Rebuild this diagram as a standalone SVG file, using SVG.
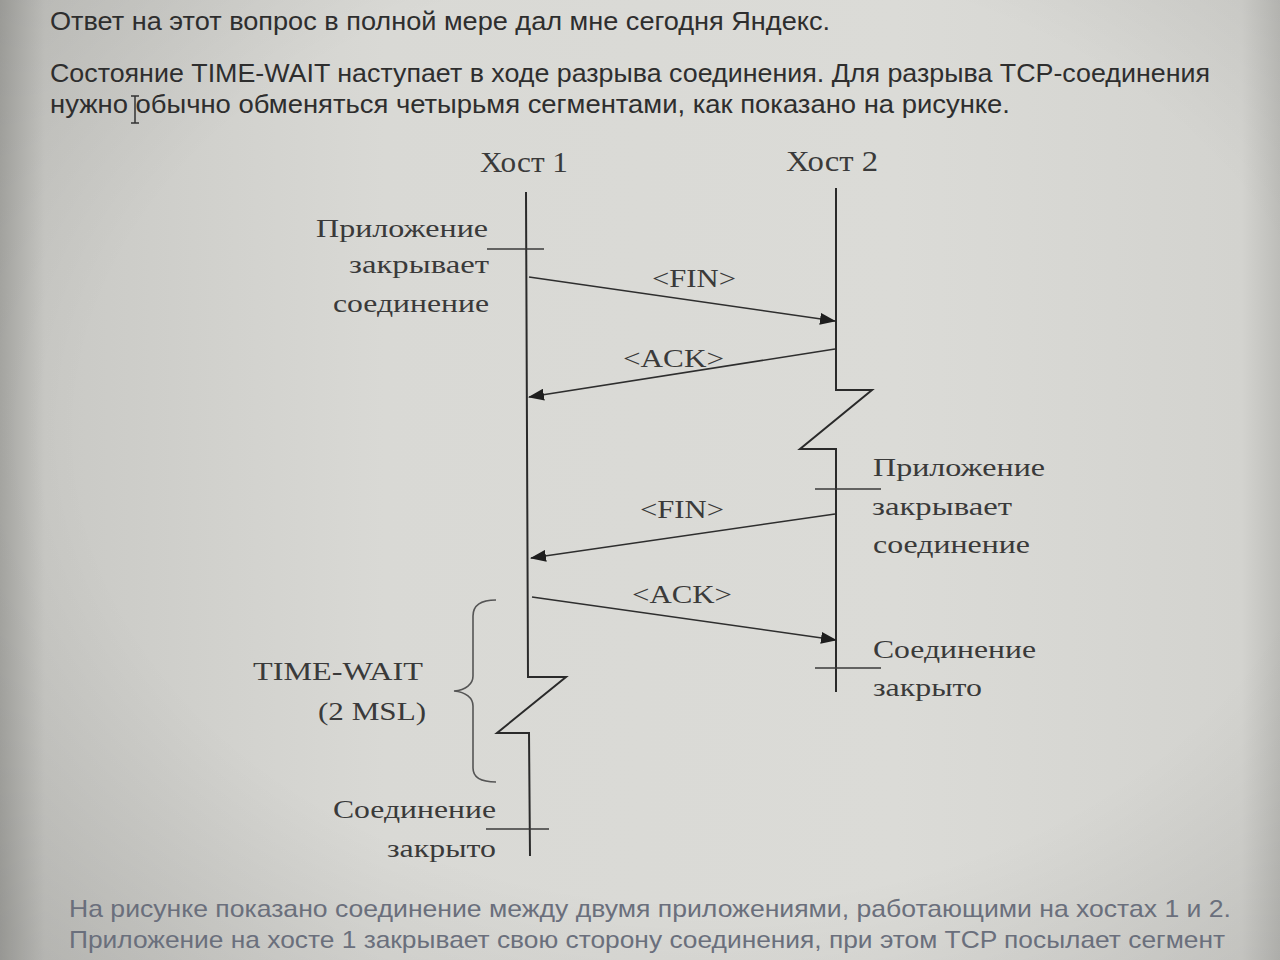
<svg xmlns="http://www.w3.org/2000/svg" width="1280" height="960" viewBox="0 0 1280 960">
<defs>
<linearGradient id="bgx" x1="0" y1="0" x2="1" y2="0">
<stop offset="0" stop-color="#a8a8a4"/>
<stop offset="0.035" stop-color="#c9c9c5"/>
<stop offset="0.3" stop-color="#d9d9d5"/>
<stop offset="0.7" stop-color="#dbdbd7"/>
<stop offset="0.97" stop-color="#d3d3cf"/>
<stop offset="1" stop-color="#bdbdb9"/>
</linearGradient>
<radialGradient id="vig" cx="0.55" cy="0.45" r="0.75">
<stop offset="0.65" stop-color="#000" stop-opacity="0"/>
<stop offset="1" stop-color="#000" stop-opacity="0.1"/>
</radialGradient>
<marker id="ah" viewBox="0 0 16 12" refX="15" refY="6" markerWidth="16" markerHeight="12" markerUnits="userSpaceOnUse" orient="auto">
<path d="M0,0 L16,6 L0,12 z" fill="#1e1e1e"/>
</marker>
<style>
.para{font-family:"Liberation Sans","DejaVu Sans",sans-serif;font-size:26px;fill:#2e2e2e}
.foot{font-family:"Liberation Sans","DejaVu Sans",sans-serif;font-size:24px;fill:#6a6f7c}
.lbl{font-family:"Liberation Serif","DejaVu Serif",serif;font-size:26px;fill:#3a3a3a}
.host{font-family:"Liberation Serif","DejaVu Serif",serif;font-size:29px;fill:#3a3a3a}
.life{fill:none;stroke:#2a2a2a;stroke-width:2}
.tick{fill:none;stroke:#3a3a3a;stroke-width:1.5}
.msg{fill:none;stroke:#2e2e2e;stroke-width:1.6;marker-end:url(#ah)}
.brace{fill:none;stroke:#555;stroke-width:1.6}
</style>
</defs>
<rect width="1280" height="960" fill="url(#bgx)"/>
<rect width="1280" height="960" fill="url(#vig)"/>

<g id="intro">
<text class="para" x="50" y="30" textLength="780" lengthAdjust="spacingAndGlyphs">Ответ на этот вопрос в полной мере дал мне сегодня Яндекс.</text>
<text class="para" x="50" y="82" textLength="1160" lengthAdjust="spacingAndGlyphs">Состояние TIME-WAIT наступает в ходе разрыва соединения. Для разрыва TCP-соединения</text>
<text class="para" x="50" y="113" textLength="960" lengthAdjust="spacingAndGlyphs">нужно обычно обменяться четырьмя сегментами, как показано на рисунке.</text>
<path d="M131,96 h8 M135,96 V123 M131,123 h8" fill="none" stroke="#333" stroke-width="1.5"/>
</g>

<g id="host1">
<text class="host" x="480" y="172" textLength="88" lengthAdjust="spacingAndGlyphs">Хост 1</text>
<polyline class="life" points="526,192 528,677 566,677 497,733 529,733 530,856"/>
<line class="tick" x1="487" y1="249" x2="544" y2="249"/>
<line class="tick" x1="486" y1="829" x2="549" y2="829"/>
</g>

<g id="host2">
<text class="host" x="786" y="171" textLength="92" lengthAdjust="spacingAndGlyphs">Хост 2</text>
<polyline class="life" points="836,188 836,390 872,390 800,449 836,449 836,692"/>
<line class="tick" x1="815" y1="489" x2="881" y2="489"/>
<line class="tick" x1="815" y1="668" x2="881" y2="668"/>
</g>

<g id="h1-close-app">
<text class="lbl" x="488" y="237" text-anchor="end" textLength="172" lengthAdjust="spacingAndGlyphs">Приложение</text>
<text class="lbl" x="489" y="273" text-anchor="end" textLength="140" lengthAdjust="spacingAndGlyphs">закрывает</text>
<text class="lbl" x="489" y="312" text-anchor="end" textLength="156" lengthAdjust="spacingAndGlyphs">соединение</text>
</g>

<g id="h2-close-app">
<text class="lbl" x="873" y="476" textLength="172" lengthAdjust="spacingAndGlyphs">Приложение</text>
<text class="lbl" x="872" y="515" textLength="140" lengthAdjust="spacingAndGlyphs">закрывает</text>
<text class="lbl" x="873" y="553" textLength="157" lengthAdjust="spacingAndGlyphs">соединение</text>
</g>

<g id="h2-closed">
<text class="lbl" x="873" y="658" textLength="163" lengthAdjust="spacingAndGlyphs">Соединение</text>
<text class="lbl" x="873" y="696" textLength="109" lengthAdjust="spacingAndGlyphs">закрыто</text>
</g>

<g id="time-wait">
<path class="brace" d="M496,600 C482,600 473,604 473,616 L473,676 C473,684 466,690 454,691 C466,692 473,698 473,706 L473,768 C473,778 482,782 496,782"/>
<text class="lbl" x="253" y="680" textLength="170" lengthAdjust="spacingAndGlyphs">TIME-WAIT</text>
<text class="lbl" x="318" y="720" textLength="108" lengthAdjust="spacingAndGlyphs">(2 MSL)</text>
</g>

<g id="h1-closed">
<text class="lbl" x="496" y="818" text-anchor="end" textLength="163" lengthAdjust="spacingAndGlyphs">Соединение</text>
<text class="lbl" x="496" y="857" text-anchor="end" textLength="109" lengthAdjust="spacingAndGlyphs">закрыто</text>
</g>

<g id="connectors">
<line class="msg" x1="529" y1="277" x2="835" y2="321"/>
<line class="msg" x1="835" y1="349" x2="529" y2="397"/>
<line class="msg" x1="835" y1="514" x2="531" y2="558"/>
<line class="msg" x1="532" y1="597" x2="836" y2="640"/>
<text class="lbl" x="652" y="287" textLength="84" lengthAdjust="spacingAndGlyphs">&lt;FIN&gt;</text>
<text class="lbl" x="623" y="367" textLength="101" lengthAdjust="spacingAndGlyphs">&lt;ACK&gt;</text>
<text class="lbl" x="640" y="518" textLength="84" lengthAdjust="spacingAndGlyphs">&lt;FIN&gt;</text>
<text class="lbl" x="632" y="603" textLength="100" lengthAdjust="spacingAndGlyphs">&lt;ACK&gt;</text>
</g>

<g id="caption">
<text class="foot" x="69" y="917" textLength="1162" lengthAdjust="spacingAndGlyphs">На рисунке показано соединение между двумя приложениями, работающими на хостах 1 и 2.</text>
<text class="foot" x="69" y="948" textLength="1156" lengthAdjust="spacingAndGlyphs">Приложение на хосте 1 закрывает свою сторону соединения, при этом TCP посылает сегмент</text>
</g>
</svg>
